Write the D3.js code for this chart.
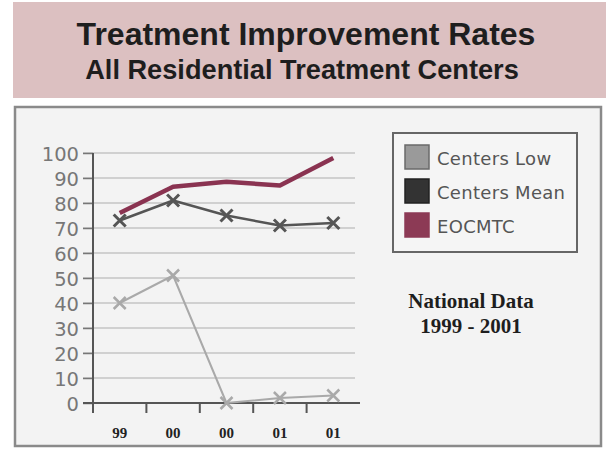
<!DOCTYPE html>
<html>
<head>
<meta charset="utf-8">
<script src="https://cdn.jsdelivr.net/npm/d3@7"></script>
<style>
  html, body { margin: 0; padding: 0; background: #ffffff; }
  svg { display: block; }
</style>
</head>
<body>
<svg id="chart" width="606" height="449"></svg>
<script>
// ---- data ----
const categories = ["99", "00", "00", "01", "01"];
const centersLow = [40, 51, 0, 2, 3];
const centersMean = [73, 81, 75, 71, 72];
const eocmtc = [76, 86.5, 88.5, 87, 98];
const yTicks = [0, 10, 20, 30, 40, 50, 60, 70, 80, 90, 100];
const seriesNames = ["Centers Low", "Centers Mean", "EOCMTC"];
const titleText = "Treatment Improvement Rates";
const subtitleText = "All Residential Treatment Centers";
const noteLines = ["National Data", "1999 - 2001"];

const svg = d3.select("#chart");

// header band
svg.append("rect").attr("x", 13).attr("y", 2).attr("width", 593).attr("height", 96)
  .attr("fill", "#dcc0c1");
svg.append("text").attr("x", 306).attr("y", 45).attr("text-anchor", "middle")
  .attr("font-family", "Liberation Sans, Arial, sans-serif").attr("font-weight", "bold")
  .attr("font-size", 32).attr("fill", "#1e1e1e").text(titleText);
svg.append("text").attr("x", 302).attr("y", 79).attr("text-anchor", "middle")
  .attr("font-family", "Liberation Sans, Arial, sans-serif").attr("font-weight", "bold")
  .attr("font-size", 27.2).attr("fill", "#1e1e1e").text(subtitleText);

// chart frame
svg.append("rect").attr("x", 15).attr("y", 107).attr("width", 586).attr("height", 339)
  .attr("fill", "#f3f3f3").attr("stroke", "#8a8a8a").attr("stroke-width", 2.5);

// scales
const x = d3.scaleBand().domain(d3.range(categories.length)).range([93, 360]);
const y = d3.scaleLinear().domain([0, 100]).range([403, 153]);

// gridlines
svg.append("g").selectAll("line").data(yTicks.filter(d => d > 0)).join("line")
  .attr("x1", 83).attr("x2", 355)
  .attr("y1", d => y(d)).attr("y2", d => y(d))
  .attr("stroke", "#c4c4c4").attr("stroke-width", 1.5);

// y axis
const yAxis = d3.axisLeft(y).tickValues(yTicks).tickSize(10).tickPadding(4);
const ya = svg.append("g").attr("transform", "translate(93,0)").call(yAxis);
ya.select(".domain").remove();
ya.selectAll(".tick line").attr("stroke", "#777").attr("stroke-width", 1.5);
ya.selectAll(".tick text").attr("font-family", "DejaVu Sans, sans-serif")
  .attr("font-size", 19.5).attr("fill", "#777").attr("dy", "0.36em");
svg.append("line").attr("x1", 93).attr("x2", 93).attr("y1", 153).attr("y2", 413)
  .attr("stroke", "#555").attr("stroke-width", 2);

// x axis baseline + band-boundary ticks
svg.append("line").attr("x1", 83).attr("x2", 360).attr("y1", y(0)).attr("y2", y(0))
  .attr("stroke", "#555").attr("stroke-width", 2);
svg.append("g").selectAll("line").data(d3.range(1, categories.length)).join("line")
  .attr("x1", d => x(d)).attr("x2", d => x(d))
  .attr("y1", y(0)).attr("y2", y(0) + 10)
  .attr("stroke", "#555").attr("stroke-width", 2);
svg.append("g").selectAll("text").data(categories).join("text")
  .attr("x", (d, i) => x(i) + x.bandwidth() / 2).attr("y", 438)
  .attr("text-anchor", "middle")
  .attr("font-family", "Liberation Serif, Times New Roman, serif").attr("font-weight", "bold")
  .attr("font-size", 15).attr("fill", "#222").text(d => d);

// lines
const line = d3.line().x((d, i) => x(i) + x.bandwidth() / 2).y(d => y(d));
function drawSeries(vals, color, width, marker, msize) {
  svg.append("path").datum(vals).attr("d", line).attr("fill", "none")
    .attr("stroke", color).attr("stroke-width", width).attr("stroke-linejoin", "round");
  if (marker) {
    const m = svg.append("g");
    vals.forEach((v, i) => {
      const cx = x(i) + x.bandwidth() / 2, cy = y(v);
      m.append("path")
        .attr("d", `M${cx - msize},${cy - msize}L${cx + msize},${cy + msize}M${cx - msize},${cy + msize}L${cx + msize},${cy - msize}`)
        .attr("stroke", color).attr("stroke-width", width + 0.5).attr("fill", "none");
    });
  }
}
drawSeries(centersLow, "#a9a9a9", 2, true, 6);
drawSeries(centersMean, "#555555", 2.5, true, 6);
drawSeries(eocmtc, "#8a3351", 4.5, false, 0);

// legend
const colors = ["#9a9a9a", "#333333", "#8c3a55"];
const strokes = ["#6a6a6a", "#222222", "#8c3a55"];
svg.append("rect").attr("x", 393).attr("y", 133).attr("width", 184).attr("height", 119)
  .attr("fill", "#f5f5f5").attr("stroke", "#666").attr("stroke-width", 2);
const lg = svg.selectAll("g.lg").data(seriesNames).join("g").attr("class", "lg")
  .attr("transform", (d, i) => `translate(405,${145 + i * 34})`);
lg.append("rect").attr("width", 24).attr("height", 24)
  .attr("fill", (d, i) => colors[i]).attr("stroke", (d, i) => strokes[i]).attr("stroke-width", 1.5);
lg.append("text").attr("x", 32).attr("y", 20)
  .attr("font-family", "DejaVu Sans, sans-serif").attr("font-size", 18)
  .attr("letter-spacing", 0.3)
  .attr("fill", "#555").text(d => d);

// note
svg.append("g").selectAll("text").data(noteLines).join("text")
  .attr("x", 471).attr("y", (d, i) => 308 + i * 25).attr("text-anchor", "middle")
  .attr("font-family", "Liberation Serif, Times New Roman, serif").attr("font-weight", "bold")
  .attr("font-size", 21).attr("fill", "#1e1e1e").text(d => d);
</script>
</body>
</html>
